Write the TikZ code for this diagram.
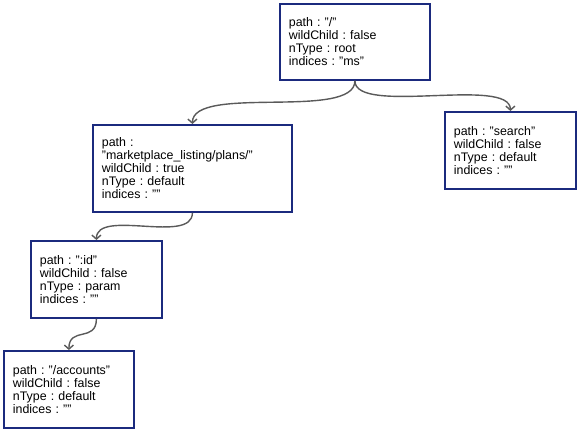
\documentclass[tikz,border=0pt]{standalone}
\usepackage{fontspec}
\setmainfont{Liberation Sans}
\usetikzlibrary{arrows.meta}
\definecolor{boxblue}{HTML}{1B2A7E}
\definecolor{conngray}{HTML}{5A5A5A}
\tikzset{
  treebox/.style={draw=boxblue, line width=1.8pt, fill=white, anchor=north west,
    align=left, inner xsep=9pt, inner ysep=0pt,
    font=\fontsize{12.4}{13}\selectfont\frenchspacing},
  conn/.style={draw=conngray, line width=1.4pt,
    -{Straight Barb[length=4pt,width=9pt,line width=1.4pt]}}
}
\begin{document}
\begin{tikzpicture}[x=1pt,y=-1pt]
\useasboundingbox (0,0) rectangle (577,429);
\node[treebox, text width=132pt, minimum height=76pt] (root) at (279,3)
  {path : "/"\\wildChild : false\\nType : root\\indices : "ms"};
\node[treebox, text width=113pt, minimum height=77pt] (search) at (444,111)
  {path : "search"\\wildChild : false\\nType : default\\indices : ""};
\node[treebox, text width=181pt, minimum height=87pt] (plans) at (92,124)
  {path :\\"marketplace\_listing/plans/"\\wildChild : true\\nType : default\\indices : ""};
\node[treebox, text width=113pt, minimum height=77pt] (id) at (30,240)
  {path : ":id"\\wildChild : false\\nType : param\\indices : ""};
\node[treebox, text width=112pt, minimum height=77pt] (acc) at (3,350)
  {path : "/accounts"\\wildChild : false\\nType : default\\indices : ""};
\draw[conn] (root.south) .. controls +(0,40) and +(0,-40) .. (plans.north);
\draw[conn] (root.south) .. controls +(0,35) and +(0,-35) .. (search.north);
\draw[conn] (plans.south) .. controls +(0,32) and +(0,-32) .. (id.north);
\draw[conn] (id.south) .. controls +(0,24) and +(0,-24) .. (acc.north);
\end{tikzpicture}
\end{document}
